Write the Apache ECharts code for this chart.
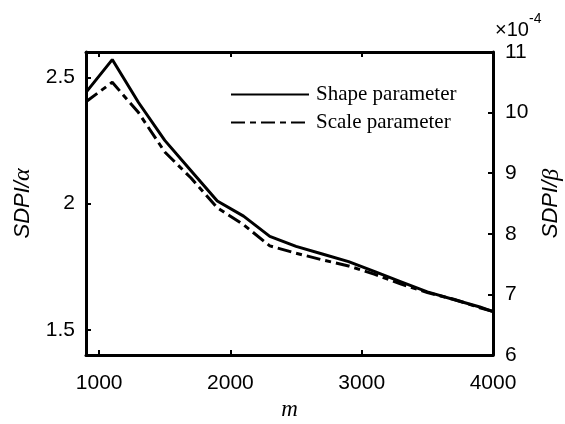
<!DOCTYPE html>
<html><head><meta charset="utf-8">
<script src="https://cdn.jsdelivr.net/npm/echarts@6/dist/echarts.min.js"></script>
<style>html,body{margin:0;padding:0;background:#fff}#c{width:565px;height:424px}</style>
</head><body><div id="c"></div>
<script>
const mValues = [900, 1100, 1300, 1500, 1700, 1900, 2100, 2300, 2500, 2700, 2900, 3100, 3300, 3500, 3700, 3900, 4000];
const shapeSDPI = [2.44, 2.57, 2.40, 2.25, 2.13, 2.01, 1.95, 1.87, 1.83, 1.80, 1.77, 1.73, 1.69, 1.65, 1.62, 1.59, 1.572];
const scaleSDPI = [10.18, 10.50, 10.00, 9.35, 8.92, 8.43, 8.15, 7.80, 7.68, 7.57, 7.47, 7.33, 7.17, 7.03, 6.92, 6.78, 6.72]; // ×10^-4
const xTickValues = [1000, 2000, 3000, 4000];
const leftTickValues = [1.5, 2, 2.5];
const seriesNames = ['Shape parameter', 'Scale parameter'];

const chart = echarts.init(document.getElementById('c'), null, {renderer: 'canvas'});
const black = '#000';
const axisLineStyle = {show: true, onZero: false, lineStyle: {color: black, width: 3}};
const tickStyle = {show: true, inside: true, length: 5, lineStyle: {color: black, width: 2}};
const labelFont = {color: black, fontFamily: 'Liberation Sans', fontSize: 21};
const nameRich = () => ({
  a: {fontFamily: 'Liberation Sans', fontStyle: 'italic', fontSize: 22, color: black},
  b: {fontFamily: 'Liberation Serif', fontStyle: 'italic', fontSize: 24, color: black}
});

chart.setOption({
  animation: false,
  backgroundColor: '#fff',
  grid: {left: 86, right: 72, top: 52, bottom: 69, containLabel: false, outerBoundsMode: 'none'},
  legend: {
    orient: 'vertical', left: 230, top: 84, padding: 0, itemWidth: 78, itemHeight: 20, itemGap: 7,
    itemStyle: {opacity: 0},
    textStyle: {fontFamily: 'Liberation Serif', fontSize: 21, color: black, padding: [0, 0, 0, 2]},
    data: seriesNames
  },
  xAxis: [{
    type: 'value', position: 'bottom', min: 900, max: 4000,
    axisLine: axisLineStyle,
    axisTick: Object.assign({customValues: xTickValues}, tickStyle),
    axisLabel: Object.assign({customValues: xTickValues, margin: 18, formatter: v => String(v)}, labelFont),
    splitLine: {show: false},
    name: 'm', nameLocation: 'middle', nameGap: 34,
    nameTextStyle: {fontFamily: 'Liberation Serif', fontStyle: 'italic', fontSize: 23, color: black}
  }, {
    type: 'value', position: 'top', min: 900, max: 4000,
    axisLine: axisLineStyle,
    axisTick: Object.assign({customValues: xTickValues}, tickStyle),
    axisLabel: {show: false},
    splitLine: {show: false}
  }],
  yAxis: [{
    type: 'value', position: 'left', min: 1.4, max: 2.6,
    axisLine: axisLineStyle,
    axisTick: Object.assign({customValues: leftTickValues}, tickStyle),
    axisLabel: Object.assign({customValues: leftTickValues, margin: 11, formatter: v => String(v)}, labelFont),
    splitLine: {show: false},
    name: '{a|SDPI/}{b|α}', nameLocation: 'middle', nameRotate: 90, nameGap: 46,
    nameTextStyle: {rich: nameRich()}
  }, {
    type: 'value', position: 'right', min: 6, max: 11, interval: 1,
    axisLine: axisLineStyle,
    axisTick: tickStyle,
    axisLabel: Object.assign({margin: 12}, labelFont),
    splitLine: {show: false},
    name: '{a|SDPI/}{b|β}', nameLocation: 'middle', nameRotate: 90, nameGap: 40,
    nameTextStyle: {rich: nameRich()}
  }],
  graphic: [
    {type: 'text', left: 495, top: 20, style: {text: '×10', fontFamily: 'Liberation Sans', fontSize: 20, fill: black}},
    {type: 'text', left: 529, top: 12, style: {text: '-4', fontFamily: 'Liberation Sans', fontSize: 14, fill: black}}
  ],
  series: [{
    name: seriesNames[0], type: 'line', xAxisIndex: 0, yAxisIndex: 0, symbol: 'none',
    lineStyle: {color: black, width: 3, type: 'solid'},
    itemStyle: {color: black},
    data: mValues.map((m, i) => [m, shapeSDPI[i]])
  }, {
    name: seriesNames[1], type: 'line', xAxisIndex: 0, yAxisIndex: 1, symbol: 'none',
    lineStyle: {color: black, width: 3, type: [14, 5, 6, 5]},
    itemStyle: {color: black},
    data: mValues.map((m, i) => [m, scaleSDPI[i]])
  }]
});
</script>
</body></html>
